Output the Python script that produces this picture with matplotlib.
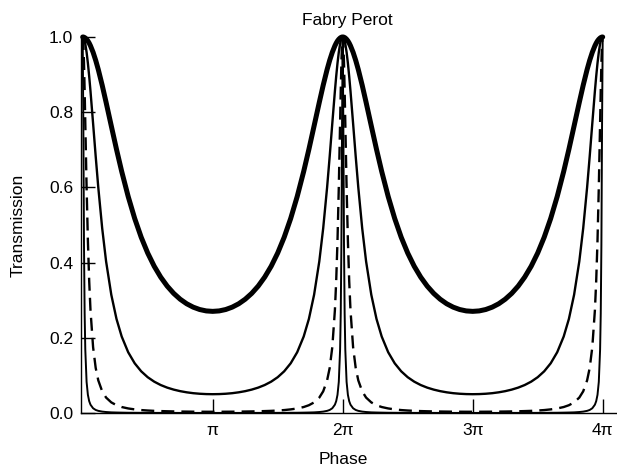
import numpy as np
import matplotlib
matplotlib.use("Agg")
import matplotlib.pyplot as plt

plt.rcParams['font.family'] = ['Liberation Sans', 'DejaVu Sans']

# Half-period transmission profiles.
# phase_offset: distance from a transmission peak, in units of pi.
phase_offset = [0, 0.005, 0.01, 0.015, 0.02, 0.03, 0.04, 0.05, 0.06, 0.08,
                0.10, 0.12, 0.15, 0.18, 0.22, 0.26, 0.30, 0.35, 0.40, 0.45,
                0.50, 0.55, 0.60, 0.65, 0.70, 0.75, 0.80, 0.85, 0.90, 0.95, 1.00]

thick_T = [1.000, 1.000, 0.9993, 0.9985, 0.9973, 0.9940, 0.9895, 0.9837, 0.9766, 0.9593,
           0.9380, 0.9134, 0.8717, 0.8262, 0.7635, 0.7013, 0.6425, 0.5757, 0.5174, 0.4675,
           0.4255, 0.3904, 0.3614, 0.3375, 0.3181, 0.3026, 0.2905, 0.2815, 0.2752, 0.2715, 0.2703]

thin_T = [1.000, 0.9988, 0.9953, 0.9896, 0.9816, 0.9595, 0.9303, 0.8953, 0.8560, 0.7701,
          0.6826, 0.5998, 0.4913, 0.4032, 0.3145, 0.2502, 0.2034, 0.1616, 0.1322, 0.1109,
          0.0952, 0.0834, 0.0744, 0.0675, 0.0622, 0.0581, 0.0550, 0.0527, 0.0512, 0.0503, 0.0500]

dashed_T = [1.000, 0.9818, 0.9311, 0.8572, 0.7716, 0.6004, 0.4582, 0.3513, 0.2735, 0.1751,
            0.1199, 0.0867, 0.0576, 0.0410, 0.0282, 0.0207, 0.0159, 0.0121, 0.0096, 0.0078,
            0.0066, 0.0057, 0.0051, 0.0046, 0.0042, 0.0039, 0.0037, 0.0035, 0.0034, 0.0033, 0.0033]

narrow_T = [1.000, 0.7642, 0.4477, 0.2649, 0.1686, 0.0827, 0.0483, 0.0315, 0.0221, 0.0126,
            0.0081, 0.0057, 0.0037, 0.0026, 0.0017, 0.0013, 0.0010, 0.0007, 0.0006, 0.0005,
            0.0004, 0.0003, 0.0003, 0.0003, 0.0003, 0.0002, 0.0002, 0.0002, 0.0002, 0.0002, 0.0002]

peak_positions = [0, 2, 4]          # in units of pi
xtick_values = [1, 2, 3, 4]
xtick_labels = ['π', '2π', '3π', '4π']
ytick_values = [0.0, 0.2, 0.4, 0.6, 0.8, 1.0]
ytick_labels = ['0.0', '0.2', '0.4', '0.6', '0.8', '1.0']


def full_curve(profile):
    off = np.array(phase_offset)
    p = np.array(profile)
    xs, ys = [], []
    for a, b in zip(peak_positions[:-1], peak_positions[1:]):
        xs += [a + off, b - off[::-1]]
        ys += [p, p[::-1]]
    return np.concatenate(xs), np.concatenate(ys)


W, H = 617, 468
fig = plt.figure(figsize=(W / 100, H / 100), dpi=100)
ax = fig.add_axes([81 / W, 55 / H, 536 / W, 376 / H])

x, y = full_curve(thick_T)
ax.plot(x, y, color='black', lw=3.6, clip_on=False, solid_capstyle='round')
x, y = full_curve(thin_T)
ax.plot(x, y, color='black', lw=1.7, clip_on=False)
x, y = full_curve(dashed_T)
ax.plot(x, y, color='black', lw=1.7, dashes=(5.5, 3.0), clip_on=False)
x, y = full_curve(narrow_T)
ax.plot(x, y, color='black', lw=1.4, clip_on=False)

ax.set_xlim(-0.013, 4.11)
ax.set_ylim(0.0, 1.0)

for s in ('top', 'right'):
    ax.spines[s].set_visible(False)
for s in ('left', 'bottom'):
    ax.spines[s].set_linewidth(1.0)

ax.set_xticks(xtick_values)
ax.set_xticklabels(xtick_labels)
ax.set_yticks(ytick_values)
ax.set_yticklabels(ytick_labels)
ax.tick_params(axis='both', direction='in', length=10, width=1.0,
               labelsize=12.5, colors='black')
ax.tick_params(axis='x', pad=7)
ax.tick_params(axis='y', pad=5.5)

fig.text(347.5 / W, 1 - 25 / H, 'Fabry Perot', ha='center', va='baseline', fontsize=12.5)
fig.text(343 / W, 1 - 464 / H, 'Phase', ha='center', va='baseline', fontsize=12.5)
fig.text(18 / W, 1 - 225 / H, 'Transmission', ha='center', va='center',
         rotation=90, fontsize=12.5)

fig.savefig('out.png', dpi=100, facecolor='white')
